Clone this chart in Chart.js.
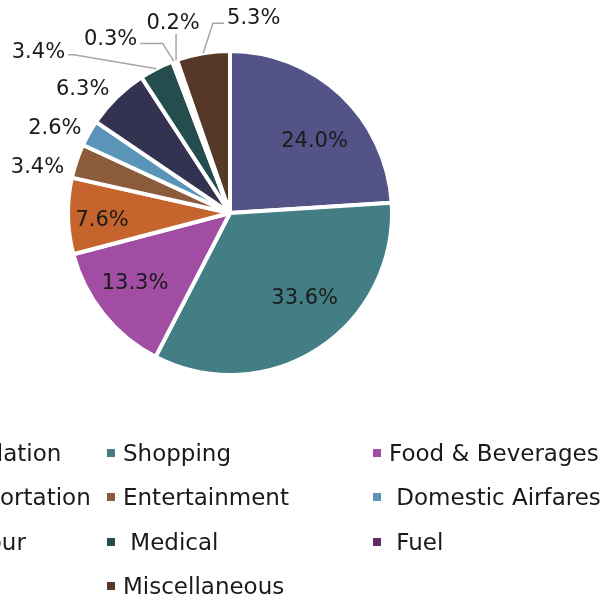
<!DOCTYPE html>
<html>
<head>
<meta charset="utf-8">
<style>
  html, body { margin: 0; padding: 0; background: #fff; overflow: hidden; }
  canvas { display: block; }
</style>
</head>
<body>
<canvas id="chart" width="605" height="600"></canvas>
<script src="https://cdn.jsdelivr.net/npm/chart.js@4.4.1/dist/chart.umd.min.js"></script>
<script>
// values (share of spend, %)
const categories = ['Accommodation', 'Shopping', 'Food & Beverages', 'Bus Transportation', 'Entertainment',
  'Domestic Airfares', 'Package Tour', 'Medical', 'Fuel', 'Others', 'Miscellaneous'];
const shares = [24.0, 33.6, 13.3, 7.6, 3.4, 2.6, 6.3, 3.4, 0.3, 0.2, 5.3];
// legend text as shown (some entries carry a leading space)
const legendLabels = ['Accommodation', 'Shopping', 'Food & Beverages', 'Bus Transportation', 'Entertainment',
  ' Domestic Airfares', 'Package Tour', ' Medical', ' Fuel', 'Others', 'Miscellaneous'];
const colors = ['#535388', '#427E84', '#A04DA3', '#C5652D', '#8B5B3C',
  '#5B94B9', '#333251', '#254D4E', '#5E2E62', '#8A8A8A', '#553826'];

// label placement relative to each slice: angle shift (deg) and radius factor
const labelPlace = [
  { da: 5.8, rf: 0.70 },
  { da: -8.7, rf: 0.70 },
  { da: 3.1, rf: 0.73 },
  { da: -1.1, rf: 0.80 },
  { da: -4.7, rf: 1.24 },
  { da: -3.3, rf: 1.22 },
  { da: -5.1, rf: 1.21 },
  { da: -22.7, rf: 1.57, leader: { da: -17.6, rf: 1.39, h: true } },
  { da: -13.8, rf: 1.33, leader: { da: -1.3, rf: 1.14, h: true } },
  { da: 2.9, rf: 1.25, leader: { da: 2.7, rf: 1.17, h: false } },
  { da: 16.4, rf: 1.24, leader: { da: 4.4, rf: 1.19, h: true } }
];

const FONT = '"DejaVu Sans", sans-serif';
const LABEL_SIZE = 21;
const LEGEND_SIZE = 23;
const BORDER = 4;

const pieLabels = {
  id: 'pieLabels',
  afterDatasetsDraw(chart) {
    const ctx = chart.ctx;
    const meta = chart.getDatasetMeta(0);
    ctx.save();
    ctx.font = LABEL_SIZE + 'px ' + FONT;
    ctx.textAlign = 'center';
    ctx.textBaseline = 'alphabetic';
    meta.data.forEach((arc, i) => {
      const p = arc.getProps(['x', 'y', 'startAngle', 'endAngle', 'outerRadius'], true);
      const r = p.outerRadius - BORDER / 2;
      const mid = (p.startAngle + p.endAngle) / 2;
      const pl = labelPlace[i];
      const a = mid + pl.da * Math.PI / 180;
      const lx = p.x + Math.cos(a) * r * pl.rf;
      const ly = p.y + Math.sin(a) * r * pl.rf;
      const text = shares[i].toFixed(1) + '%';
      const w = ctx.measureText(text).width;

      if (pl.leader) {
        const ea = mid + pl.leader.da * Math.PI / 180;
        const ex = p.x + Math.cos(ea) * r * pl.leader.rf;
        const ey = p.y + Math.sin(ea) * r * pl.leader.rf;
        ctx.beginPath();
        ctx.strokeStyle = '#a6a6a6';
        ctx.lineWidth = 1.5;
        ctx.moveTo(p.x + Math.cos(mid) * (r + 2), p.y + Math.sin(mid) * (r + 2));
        ctx.lineTo(ex, ey);
        if (pl.leader.h) {
          const side = ex > lx ? lx + w / 2 + 3 : lx - w / 2 - 3;
          ctx.lineTo(side, ey);
        }
        ctx.stroke();
      }

      ctx.fillStyle = '#1a1a1a';
      ctx.fillText(text, lx, ly + LABEL_SIZE * 0.365);
    });
    ctx.restore();
  }
};

// legend laid out in three columns, left column partly off the page
const legendCols = [-141, 107, 373];
const legendRows = [453, 497, 542, 586];

const gridLegend = {
  id: 'gridLegend',
  afterDraw(chart) {
    const ctx = chart.ctx;
    ctx.save();
    ctx.font = LEGEND_SIZE + 'px ' + FONT;
    ctx.textBaseline = 'alphabetic';
    ctx.textAlign = 'left';
    legendLabels.forEach((label, i) => {
      const col = i % 3;
      const row = Math.floor(i / 3);
      const x = legendCols[col];
      const y = legendRows[row];
      ctx.fillStyle = colors[i];
      ctx.fillRect(x, y - 4, 8, 8);
      ctx.fillStyle = '#1a1a1a';
      ctx.fillText(label, x + 16, y + LEGEND_SIZE * 0.365);
    });
    ctx.restore();
  }
};

new Chart(document.getElementById('chart'), {
  type: 'pie',
  data: {
    labels: categories,
    datasets: [{
      data: shares,
      backgroundColor: colors,
      borderColor: '#ffffff',
      borderWidth: BORDER,
      borderJoinStyle: 'bevel'
    }]
  },
  options: {
    responsive: false,
    animation: false,
    radius: 162,
    layout: { padding: { left: 0, top: 0, right: 145, bottom: 174 } },
    plugins: {
      legend: { display: false },
      tooltip: { enabled: false }
    }
  },
  plugins: [pieLabels, gridLegend]
});
</script>
</body>
</html>
